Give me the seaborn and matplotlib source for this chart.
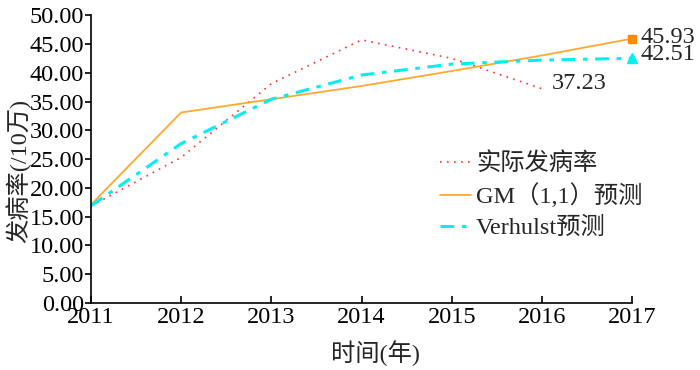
import matplotlib
matplotlib.use("Agg")
import matplotlib.pyplot as plt
import seaborn as sns
import pandas as pd
from matplotlib.lines import Line2D

years_actual = [2011, 2012, 2013, 2014, 2015, 2016]
actual = [16.85, 25.3, 38.1, 45.7, 42.5, 37.23]
years_pred = [2011, 2012, 2013, 2014, 2015, 2016, 2017]
gm11 = [17.1, 33.1, 35.4, 37.7, 40.3, 43.0, 45.93]
verhulst = [16.9, 27.7, 35.4, 39.6, 41.5, 42.2, 42.51]

labels = ["实际发病率", "GM（1,1）预测", "Verhulst预测"]
x_label = "时间(年)"
y_label = "发病率(/10万)"
y_ticks = [0, 5, 10, 15, 20, 25, 30, 35, 40, 45, 50]
x_ticks = [2011, 2012, 2013, 2014, 2015, 2016, 2017]

sns.set_theme(style="ticks")
plt.rcParams['font.family'] = ['Liberation Serif', 'Noto Sans CJK SC', 'DejaVu Sans']
plt.rcParams['axes.unicode_minus'] = False

fig = plt.figure(figsize=(7, 3.7), dpi=100)
ax = fig.add_axes([0.13, 0.181, 0.773, 0.778])

df_a = pd.DataFrame({"year": years_actual, "v": actual})
df_g = pd.DataFrame({"year": years_pred, "v": gm11})
df_v = pd.DataFrame({"year": years_pred, "v": verhulst})

red = "#ff3030"
orange = "#ffa830"
cyan = "#00f0f0"
red_ls = (0, (1, 3.2))
cyan_ls = (0, (4.5, 2.5, 1.5, 2.5))

sns.lineplot(data=df_a, x="year", y="v", ax=ax, color=red, lw=1.2,
             linestyle=red_ls, legend=False)
sns.lineplot(data=df_g, x="year", y="v", ax=ax, color=orange, lw=1.3, legend=False)
sns.lineplot(data=df_v, x="year", y="v", ax=ax, color=cyan, lw=2.2,
             linestyle=cyan_ls, legend=False)

# end markers
ax.plot(years_pred[-1], gm11[-1], marker="s", ms=6, color="#ff8c00", clip_on=False, zorder=5)
ax.plot(years_pred[-1], verhulst[-1], marker="^", ms=6.5, color=cyan, clip_on=False, zorder=5)

fs = 17.5
ax.annotate(f"{gm11[-1]:.2f}", (years_pred[-1], gm11[-1]), xytext=(6, 1),
            textcoords="offset points", fontsize=fs, va="center", ha="left",
            annotation_clip=False)
ax.annotate(f"{verhulst[-1]:.2f}", (years_pred[-1], verhulst[-1]), xytext=(6, 3),
            textcoords="offset points", fontsize=fs, va="center", ha="left",
            annotation_clip=False)
ax.annotate(f"{actual[-1]:.2f}", (years_actual[-1], actual[-1]), xytext=(7, 4),
            textcoords="offset points", fontsize=fs, va="center", ha="left",
            annotation_clip=False)

ax.set_xlim(2011, 2017)
ax.set_ylim(0, 50)
ax.set_xticks(x_ticks)
ax.set_xticklabels([str(t) for t in x_ticks])
ax.set_yticks(y_ticks)
ax.set_yticklabels([f"{t:.2f}" for t in y_ticks])
ax.tick_params(axis="x", direction="in", length=5, width=1.2, labelsize=fs, pad=3, colors="black")
ax.tick_params(axis="y", direction="out", length=4, width=1.2, labelsize=fs, pad=1, colors="black")
ax.set_xlabel(x_label, fontsize=fs)
ax.set_ylabel(y_label, fontsize=fs)
ax.yaxis.set_label_coords(-0.11, 0.46)
ax.xaxis.set_label_coords(0.525, -0.13)
for s in ["top", "right"]:
    ax.spines[s].set_visible(False)
for s in ["left", "bottom"]:
    ax.spines[s].set_linewidth(1.2)
    ax.spines[s].set_color("black")

handles = [
    Line2D([], [], color=red, lw=1.2, linestyle=red_ls),
    Line2D([], [], color=orange, lw=1.3),
    Line2D([], [], color=cyan, lw=2.2, linestyle=cyan_ls),
]
fig.legend(handles, labels, loc="upper left", bbox_to_anchor=(0.614, 0.615),
           frameon=False, fontsize=fs, handlelength=1.3, handletextpad=0.2,
           labelspacing=0.35, borderaxespad=0)

fig.savefig("out.png", dpi=100)
